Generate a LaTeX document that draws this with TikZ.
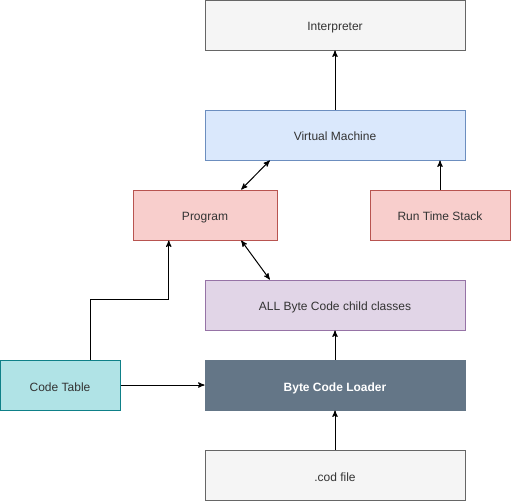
\documentclass[tikz,border=0pt]{standalone}
\usepackage{fontspec}
\setmainfont{Liberation Sans}
\usetikzlibrary{arrows,calc}
\definecolor{grauF}{HTML}{F5F5F5}
\definecolor{grauR}{HTML}{666666}
\definecolor{grauT}{HTML}{333333}
\definecolor{blauF}{HTML}{DAE8FC}
\definecolor{blauR}{HTML}{6C8EBF}
\definecolor{rotF}{HTML}{F8CECC}
\definecolor{rotR}{HTML}{B85450}
\definecolor{lilaF}{HTML}{E1D5E7}
\definecolor{lilaR}{HTML}{9673A6}
\definecolor{tuerkisF}{HTML}{B0E3E6}
\definecolor{tuerkisR}{HTML}{0E8088}
\definecolor{schieferF}{HTML}{647687}
\tikzset{
    %Define standard arrow tip
    >=stealth',
    font=\fontsize{9pt}{11pt}\selectfont,
    %Define style for boxes
    kasten/.style={
           rectangle,
           line width=0.75pt,
           minimum width=195pt,
           minimum height=37.5pt,
           inner sep=0pt,
           text height=1.9ex,
           text depth=0.2ex,
           text=grauT,
           align=center},
    grauBox/.style={kasten, fill=grauF, draw=grauR},
    blauBox/.style={kasten, fill=blauF, draw=blauR},
    rotBox/.style={kasten, fill=rotF, draw=rotR, minimum width=108pt},
    lilaBox/.style={kasten, fill=lilaF, draw=lilaR},
    tuerkisBox/.style={kasten, fill=tuerkisF, draw=tuerkisR, minimum width=90pt},
    schieferBox/.style={kasten, fill=schieferF, draw=schieferF, text=white, font=\fontsize{9pt}{11pt}\selectfont\bfseries},
    % Define arrow style
    pil/.style={
	   ->,
	   line width=0.75pt,
	   black}
}
\begin{document}
\begin{tikzpicture}[x=0.75pt, y=-0.75pt]
  \useasboundingbox (0,0) rectangle (516,501);
  \node[grauBox] (interp) at (335,25) {Interpreter};
  \node[blauBox] (vm) at (335,135) {Virtual Machine};
  \node[rotBox] (prog) at (205,215) {Program};
  \node[rotBox, minimum width=105pt] (rts) at (440,215) {Run Time Stack};
  \node[lilaBox] (allbc) at (335,305) {ALL Byte Code child classes};
  \node[tuerkisBox] (ctab) at (60,385) {Code Table};
  \node[schieferBox] (bcl) at (335,385) {Byte Code Loader};
  \node[grauBox] (cod) at (335,475) {.cod file};
  % anchor points
  \coordinate (progTop) at ($(prog.north)!.5!(prog.north east)$);
  \coordinate (progBot) at ($(prog.south)!.5!(prog.south east)$);
  \coordinate (progIn) at ($(prog.south west)!.5!(prog.south)$);
  \coordinate (vmBot) at ($(vm.south west)!.5!(vm.south)$);
  \coordinate (allTop) at ($(allbc.north west)!.5!(allbc.north)$);
  \coordinate (ctTop) at ($(ctab.north)!.5!(ctab.north east)$);
  % connectors
  \draw[pil] (vm) -- (interp);
  \draw[pil, <->] (progTop) -- (vmBot);
  \draw[pil] (rts.north) -- (vm.south -| rts.north);
  \draw[pil, <->] (progBot) -- (allTop);
  \draw[pil] (bcl) -- (allbc);
  \draw[pil] (cod) -- (bcl);
  \draw[pil] (ctab) -- (bcl);
  \draw[pil] (ctTop) -- ++(0,-60) -| (progIn);
\end{tikzpicture}
\end{document}
